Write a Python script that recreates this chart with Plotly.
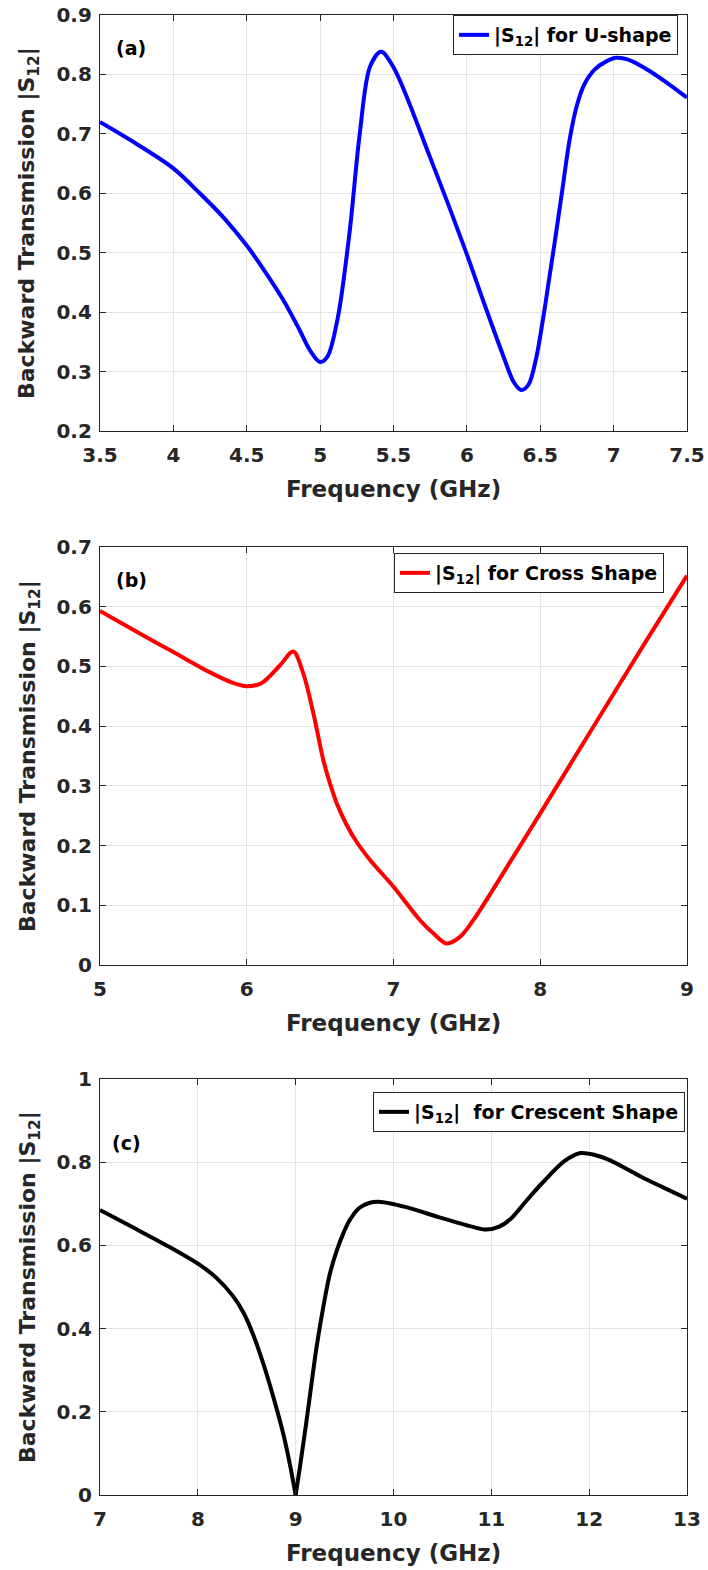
import plotly.graph_objects as go

# ---------------- data ----------------
freq_a = [3.5, 3.75, 4.0, 4.18, 4.35, 4.5, 4.62, 4.75, 4.86, 4.93, 5.0, 5.05, 5.12, 5.2, 5.27,
          5.34, 5.415, 5.5, 5.75, 5.99, 6.11, 6.25, 6.32, 6.37, 6.42, 6.47, 6.52, 6.56, 6.6,
          6.65, 6.7, 6.75, 6.8, 6.87, 6.95, 7.02, 7.12, 7.25, 7.38, 7.5]
s12_a = [0.72, 0.683, 0.642, 0.60, 0.557, 0.512, 0.47, 0.42, 0.37, 0.336, 0.316, 0.325, 0.39,
         0.533, 0.70, 0.813, 0.838, 0.812, 0.66, 0.504, 0.42, 0.325, 0.282, 0.269, 0.278, 0.32,
         0.39, 0.455, 0.52, 0.605, 0.69, 0.748, 0.783, 0.808, 0.822, 0.828, 0.823, 0.805, 0.783,
         0.761]

freq_b = [5.0, 5.25, 5.5, 5.75, 5.9, 6.0, 6.1, 6.227, 6.317, 6.385, 6.454, 6.522, 6.567, 6.613,
          6.681, 6.749, 6.84, 7.0, 7.181, 7.271, 7.362, 7.453, 7.544, 7.816, 8.0, 8.362, 8.725,
          9.0]
s12_b = [0.593, 0.558, 0.524, 0.49, 0.473, 0.467, 0.472, 0.502, 0.525, 0.4885, 0.4215, 0.343,
         0.304, 0.271, 0.2345, 0.206, 0.176, 0.131, 0.075, 0.053, 0.036, 0.047, 0.075, 0.181,
         0.254, 0.399, 0.544, 0.652]

freq_c = [7.0, 7.34, 7.68, 8.02, 8.19, 8.36, 8.47, 8.57, 8.67, 8.77, 8.87, 8.94, 9.0, 9.044,
          9.112, 9.214, 9.283, 9.351, 9.419, 9.487, 9.55, 9.65, 9.75, 9.85, 10.13, 10.46, 10.8,
          10.95, 11.08, 11.19, 11.35, 11.52, 11.75, 11.91, 12.05, 12.21, 12.53, 12.75, 13.0]
s12_c = [0.685, 0.643, 0.600, 0.553, 0.522, 0.478, 0.437, 0.383, 0.315, 0.237, 0.15, 0.075,
         0.0, 0.068, 0.18, 0.356, 0.453, 0.533, 0.587, 0.629, 0.66, 0.69, 0.702, 0.705, 0.692,
         0.668, 0.645, 0.638, 0.645, 0.662, 0.705, 0.75, 0.803, 0.822, 0.818, 0.805, 0.765,
         0.74, 0.712]

legend_a = "|S<sub>12</sub>| for U-shape"
legend_b = "|S<sub>12</sub>| for Cross Shape"
legend_c = "|S<sub>12</sub>|&nbsp; for Crescent Shape"
panel_labels = ["(a)", "(b)", "(c)"]
x_title = "Frequency (GHz)"
y_title = "Backward Transmission |S<sub>12</sub>|"

# ---------------- layout helpers ----------------
W, H = 708, 1570
FONT = "DejaVu Sans, Liberation Sans, Arial, sans-serif"
AX = "#262626"
GRID = "#e3e3e3"

def px_x(p):
    return p / W

def px_y(p):
    return 1 - p / H

x_dom = [px_x(100), px_x(687)]
panels = [(15, 431), (547, 965), (1079, 1495)]
y_doms = [[px_y(b), px_y(t)] for t, b in panels]

fig = go.Figure()

# split crescent curve at its sharp minimum
imin = s12_c.index(min(s12_c))
LW = 4

fig.add_trace(go.Scatter(x=freq_a, y=s12_a, mode="lines", name=legend_a,
                         line=dict(color="#0000ff", width=LW, shape="spline", smoothing=0.9),
                         xaxis="x", yaxis="y", legend="legend"))
fig.add_trace(go.Scatter(x=freq_b, y=s12_b, mode="lines", name=legend_b,
                         line=dict(color="#ff0000", width=LW, shape="spline", smoothing=0.9),
                         xaxis="x2", yaxis="y2", legend="legend2"))
fig.add_trace(go.Scatter(x=freq_c[:imin + 1], y=s12_c[:imin + 1], mode="lines", name=legend_c,
                         legendgroup="c",
                         line=dict(color="#000000", width=LW, shape="spline", smoothing=0.9),
                         xaxis="x3", yaxis="y3", legend="legend3"))
fig.add_trace(go.Scatter(x=freq_c[imin:], y=s12_c[imin:], mode="lines", name=legend_c,
                         legendgroup="c", showlegend=False,
                         line=dict(color="#000000", width=LW, shape="spline", smoothing=0.9),
                         xaxis="x3", yaxis="y3", legend="legend3"))

tickfont = dict(family=FONT, size=20, color=AX, weight="bold")

def xaxis(rng, dtick, anchor):
    return dict(domain=x_dom, range=rng, dtick=dtick, anchor=anchor, showgrid=True,
                gridcolor=GRID, gridwidth=1, zeroline=False, showline=True, linecolor=AX,
                linewidth=1.3, mirror="ticks", ticks="inside", ticklen=6, tickcolor=AX,
                tickfont=tickfont, automargin=False, fixedrange=True, ticklabelstandoff=6)

def yaxis(rng, dtick, dom, anchor):
    return dict(domain=dom, range=rng, dtick=dtick, anchor=anchor, showgrid=True,
                gridcolor=GRID, gridwidth=1, zeroline=False, showline=True, linecolor=AX,
                linewidth=1.3, mirror="ticks", ticks="inside", ticklen=6, tickcolor=AX,
                tickfont=tickfont, automargin=False, fixedrange=True, ticklabelstandoff=3)

legfont = dict(family=FONT, size=19, color="#000000", weight="bold")

def legend(xr, yt):
    return dict(x=px_x(xr), y=px_y(yt), xanchor="right", yanchor="top", bgcolor="white",
                bordercolor=AX, borderwidth=1, font=legfont, itemwidth=30)

annotations = []
for i, (t, b) in enumerate(panels):
    yc = px_y((t + b) / 2)
    annotations.append(dict(text=y_title, x=px_x(29), y=yc, xref="paper", yref="paper",
                            xanchor="center", yanchor="middle", textangle=-90, showarrow=False,
                            font=dict(family=FONT, size=22, color=AX, weight="bold")))
    annotations.append(dict(text=x_title, x=px_x(393), y=px_y(b + 58), xref="paper", yref="paper",
                            xanchor="center", yanchor="middle", showarrow=False,
                            font=dict(family=FONT, size=23, color=AX, weight="bold")))

label_pos = [(114, 48), (114, 580), (110, 1143)]
for lab, (lx, ly) in zip(panel_labels, label_pos):
    annotations.append(dict(text=lab, x=px_x(lx), y=px_y(ly), xref="paper", yref="paper",
                            xanchor="left", yanchor="middle", showarrow=False,
                            font=dict(family=FONT, size=19, color="#000000", weight="bold")))

fig.update_layout(
    width=W, height=H, margin=dict(l=0, r=0, t=0, b=0),
    paper_bgcolor="white", plot_bgcolor="white",
    xaxis=xaxis([3.5, 7.5], 0.5, "y"),
    yaxis=yaxis([0.2, 0.9], 0.1, y_doms[0], "x"),
    xaxis2=xaxis([5, 9], 1, "y2"),
    yaxis2=yaxis([0, 0.7], 0.1, y_doms[1], "x2"),
    xaxis3=xaxis([7, 13], 1, "y3"),
    yaxis3=yaxis([0, 1], 0.2, y_doms[2], "x3"),
    legend=legend(678, 15),
    legend2=legend(664, 553),
    legend3=legend(685, 1092),
    annotations=annotations,
    showlegend=True,
)

fig.write_html("out.html")
